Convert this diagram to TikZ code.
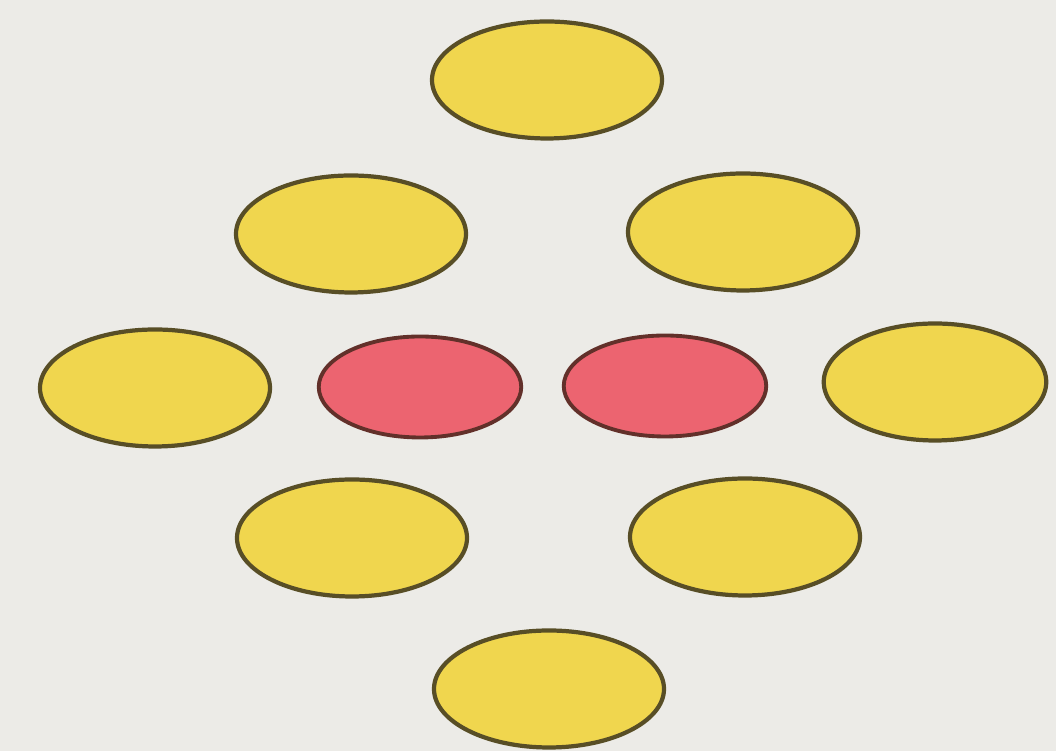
\documentclass[tikz,border=0pt]{standalone}
\usetikzlibrary{shapes.geometric, positioning}
\definecolor{paper}{RGB}{236,235,231}
\definecolor{padyellow}{RGB}{240,214,78}
\definecolor{padred}{RGB}{236,100,112}
\definecolor{olive}{RGB}{88,78,38}
\definecolor{darkred}{RGB}{98,48,42}

\begin{document}
\begin{tikzpicture}[
    yellowpad/.style={ellipse, draw=olive, fill=padyellow, line width=2.4pt, minimum width=4.6cm, minimum height=2.34cm, inner sep=0pt},
    redpad/.style={ellipse, draw=darkred, fill=padred, line width=2.2pt, minimum width=4.05cm, minimum height=2.02cm, inner sep=0pt}
]

% Background
\fill[paper] (0,0) rectangle (21.12,15.02);

% Outer ring
\node[yellowpad] (top) at (10.94,13.42) {};
\node[yellowpad] (upleft) at (7.02,10.34) {};
\node[yellowpad] (upright) at (14.86,10.38) {};
\node[yellowpad] (farleft) at (3.10,7.26) {};
\node[yellowpad, minimum width=4.45cm] (farright) at (18.70,7.38) {};
\node[yellowpad] (lowleft) at (7.04,4.26) {};
\node[yellowpad] (lowright) at (14.90,4.28) {};
\node[yellowpad] (bottom) at (10.98,1.24) {};

% Centre pair
\node[redpad] (midleft) at (8.40,7.28) {};
\node[redpad] (midright) at (13.30,7.30) {};

\end{tikzpicture}
\end{document}
